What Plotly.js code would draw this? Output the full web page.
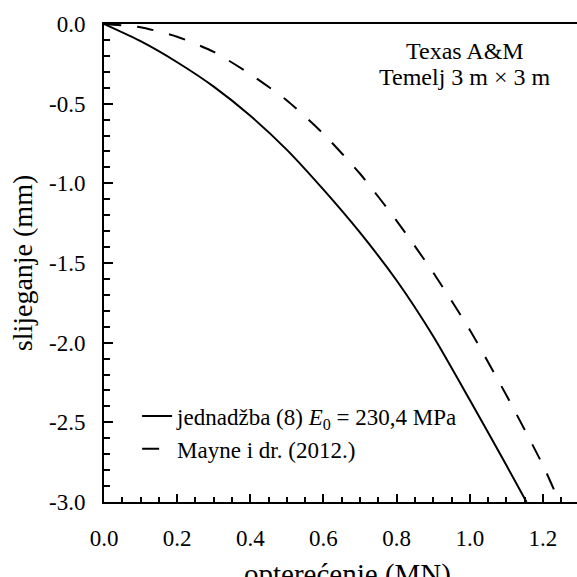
<!DOCTYPE html>
<html>
<head>
<meta charset="utf-8">
<script src="https://cdn.plot.ly/plotly-3.0.1.min.js"></script>
<style>html,body{margin:0;padding:0;background:#fff;overflow:hidden;}#chart{width:577px;height:577px;}</style>
</head>
<body>
<div id="chart"></div>
<script>
// Series 1: jednadžba (8), E0 = 230,4 MPa (solid)
const loadEq = [0, 0.1, 0.2, 0.3, 0.4, 0.5, 0.6, 0.7, 0.8, 0.9, 1.0, 1.1, 1.155];
const settleEq = [0, -0.108, -0.24, -0.393, -0.576, -0.79, -1.04, -1.31, -1.61, -1.96, -2.36, -2.77, -3.0];
// Series 2: Mayne i dr. (2012.) (dashed)
const loadMayne = [0, 0.1, 0.2, 0.3, 0.4, 0.5, 0.6, 0.7, 0.8, 0.9, 1.0, 1.1, 1.2, 1.245];
const settleMayne = [0, -0.02, -0.08, -0.175, -0.315, -0.48, -0.69, -0.94, -1.235, -1.56, -1.92, -2.33, -2.77, -3.0];
// Tick labels
const xTickVals = [0, 0.2, 0.4, 0.6, 0.8, 1.0, 1.2];
const xTickText = ["0.0", "0.2", "0.4", "0.6", "0.8", "1.0", "1.2"];
const yTickVals = [0, -0.5, -1.0, -1.5, -2.0, -2.5, -3.0];
const yTickText = ["0.0", "-0.5", "-1.0", "-1.5", "-2.0", "-2.5", "-3.0"];
const seriesNames = ["jednadžba (8) <i>E</i><sub>0</sub> = 230,4 MPa", "Mayne i dr. (2012.)"];
const noteLines = ["Texas A&M", "Temelj 3 m × 3 m"];
const xTitle = "opterećenje (MN)";
const yTitle = "slijeganje (mm)";

const FONT = "Liberation Serif, Times New Roman, Times, serif";

const traces = [
  {x: loadEq, y: settleEq, type: 'scatter', mode: 'lines', name: seriesNames[0],
   line: {color: '#000', width: 2, shape: 'spline', smoothing: 0.6}},
  {x: loadMayne, y: settleMayne, type: 'scatter', mode: 'lines', name: seriesNames[1],
   line: {color: '#000', width: 2, dash: '17px,16px', shape: 'spline', smoothing: 0.6}}
];

const layout = {
  width: 577, height: 577,
  margin: {l: 104, r: 0, t: 24, b: 75},
  paper_bgcolor: '#fff', plot_bgcolor: '#fff',
  font: {family: FONT, size: 23, color: '#000'},
  showlegend: true,
  legend: {x: 0.07, y: 0.225, xanchor: 'left', yanchor: 'top', bgcolor: 'rgba(0,0,0,0)',
           font: {family: FONT, size: 23, color: '#000'}, tracegroupgap: 0},
  xaxis: {
    range: [0, 1.293], showgrid: false, zeroline: false,
    showline: true, linecolor: '#000', linewidth: 2, mirror: true,
    ticks: 'inside', ticklen: 8, tickwidth: 2, tickcolor: '#000',
    tickvals: xTickVals, ticktext: xTickText, ticklabelstandoff: 14,
    tickfont: {family: FONT, size: 23, color: '#000'},
    minor: {dtick: 0.05, ticks: 'inside', ticklen: 5, tickwidth: 2, tickcolor: '#000', showgrid: false}
  },
  yaxis: {
    range: [-3, 0], showgrid: false, zeroline: false,
    showline: true, linecolor: '#000', linewidth: 2,
    ticks: 'inside', ticklen: 9, tickwidth: 2, tickcolor: '#000',
    tickvals: yTickVals, ticktext: yTickText, ticklabelstandoff: 12,
    tickfont: {family: FONT, size: 23, color: '#000'},
    minor: {dtick: 0.1, ticks: 'inside', ticklen: 6, tickwidth: 2, tickcolor: '#000', showgrid: false},
    title: {text: yTitle, font: {family: FONT, size: 28, color: '#000'}, standoff: 8}
  },
  annotations: [
    {xref: 'paper', yref: 'paper', x: 0.763, y: 0.9435, xanchor: 'center', yanchor: 'middle',
     text: noteLines[0], showarrow: false, font: {family: FONT, size: 24, color: '#000'}},
    {xref: 'paper', yref: 'paper', x: 0.763, y: 0.889, xanchor: 'center', yanchor: 'middle',
     text: noteLines[1], showarrow: false, font: {family: FONT, size: 24, color: '#000'}},
    {xref: 'paper', yref: 'paper', x: 0.515, y: -0.152, xanchor: 'center', yanchor: 'middle',
     text: xTitle, showarrow: false, font: {family: FONT, size: 29, color: '#000'}}
  ]
};

Plotly.newPlot('chart', traces, layout, {displayModeBar: false, staticPlot: true});
</script>
</body>
</html>
